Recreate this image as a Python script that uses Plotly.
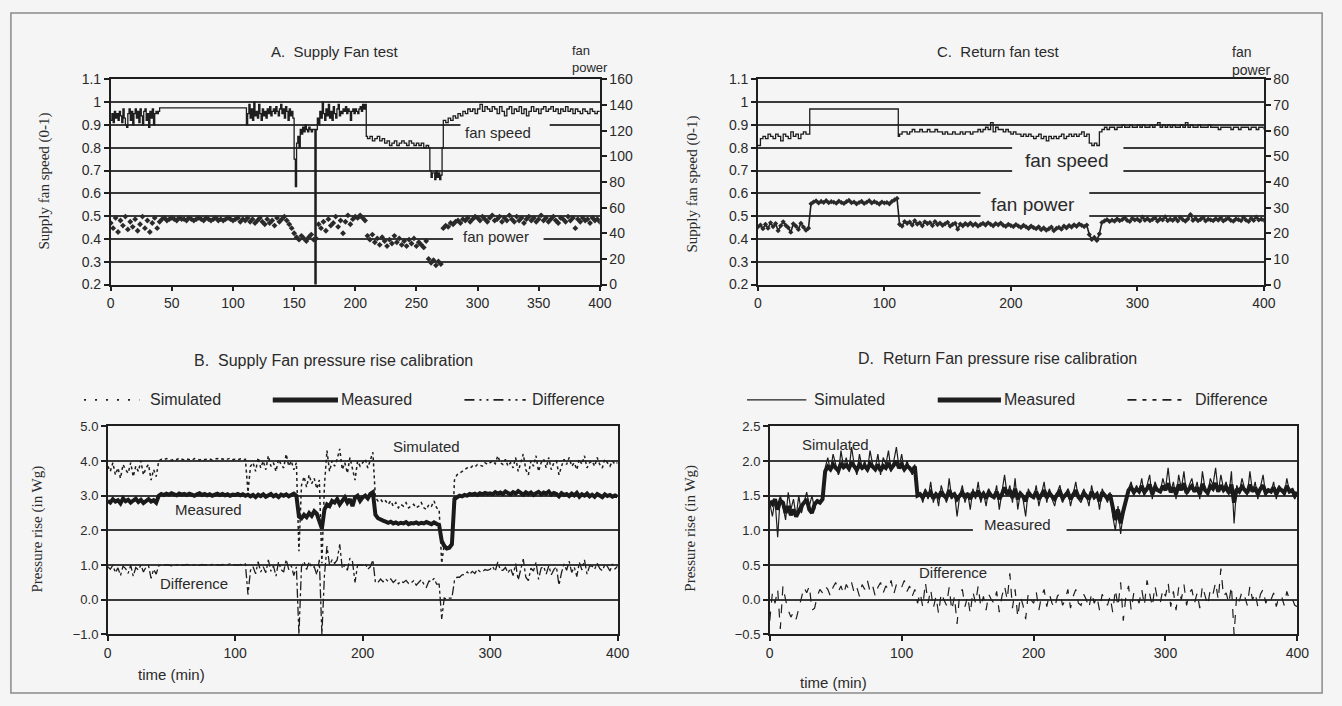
import plotly.graph_objects as go

W, H = 1342, 706


def px(x):
    return x / W


def py(y):
    return 1 - y / H


# ------------------------------------------------------------------ data
t2 = list(range(0, 401, 2))  # 2-minute sample times

# Panel A - supply fan speed (0-1) and fan power (right axis)
a_speed_t = (list(range(0, 41)) + [110] + list(range(111, 210)) +
             list(range(210, 261, 2)) + list(range(261, 272)) + list(range(272, 401, 2)))
a_speed = [
    0.92, 0.95, 0.91, 0.96, 0.93, 0.95, 0.92, 0.96, 0.94, 0.91,
    0.97, 0.93, 0.90, 0.89, 0.95, 0.97, 0.92, 0.96, 0.90, 0.95,
    0.97, 0.93, 0.96, 0.91, 0.97, 0.94, 0.90, 0.96, 0.97, 0.92,
    0.95, 0.89, 0.96, 0.93, 0.97, 0.90, 0.95, 0.96, 0.95, 0.96,
    0.975,
    0.975,
    0.90, 0.95, 0.99, 0.93, 0.97, 0.92, 1.00, 0.94, 0.96,
    0.93, 0.99, 0.95, 0.92, 0.97, 0.94, 0.96, 0.93, 0.97, 0.95,
    0.98, 0.94, 0.96, 0.97, 0.95, 0.98, 0.96, 0.94, 0.97, 0.99,
    0.95, 0.97, 0.93, 0.98, 0.96, 0.92, 0.97, 0.94, 0.96, 0.93,
    0.75, 0.63, 0.82, 0.85, 0.80, 0.88, 0.86, 0.89, 0.87, 0.90,
    0.88, 0.87, 0.89, 0.88, 0.87, 0.88, 0.88, 0.20, 0.88, 0.93,
    0.90, 0.96, 0.93, 1.00, 0.95, 0.92, 0.97, 0.94, 0.99, 0.93,
    0.96, 0.92, 0.98, 0.95, 0.93, 0.97, 0.99, 0.94, 0.96, 0.95,
    0.97, 0.96, 0.98, 0.95, 0.97, 0.96, 0.92, 0.96, 0.97, 0.95,
    0.97, 0.96, 0.95, 0.97, 0.98, 0.96, 0.99, 0.97, 0.99, 0.85,
    0.84, 0.85, 0.83, 0.84, 0.85, 0.83, 0.84, 0.82, 0.83, 0.81,
    0.82, 0.83, 0.81, 0.82, 0.83, 0.82, 0.81, 0.83, 0.82, 0.81,
    0.82, 0.81, 0.82, 0.80, 0.81, 0.80,
    0.70, 0.67, 0.69, 0.69, 0.66, 0.70, 0.67, 0.69, 0.66, 0.68, 0.80,
    0.92, 0.91, 0.93, 0.92, 0.94, 0.93, 0.95, 0.94, 0.96, 0.95,
    0.97, 0.96, 0.97, 0.95, 0.97, 0.99, 0.96, 0.98, 0.97, 0.96,
    0.98, 0.97, 0.95, 0.98, 0.96, 0.94, 0.97, 0.98, 0.95, 0.97,
    0.96, 0.98, 0.95, 0.97, 0.94, 0.96, 0.98, 0.96, 0.97, 0.95,
    0.97, 0.98, 0.96, 0.97, 0.98, 0.96, 0.97, 0.95, 0.97, 0.96,
    0.98, 0.96, 0.97, 0.95, 0.97, 0.96, 0.95, 0.97, 0.96, 0.95,
    0.97, 0.96, 0.95, 0.96, 0.96,
]
a_power = [
    48, 44, 52, 41, 50, 46, 53, 43, 49, 45, 51, 42, 47, 53, 44, 50, 41, 48, 52, 44,
    49, 51, 52, 50, 51, 52, 51, 50, 52, 51,
    51, 50, 52, 51, 50, 51, 52, 51, 50, 52,
    51, 50, 51, 52, 50, 51, 50, 51, 52, 51,
    50, 51, 52, 49, 51, 50, 52, 49, 51, 48,
    50, 52, 49, 47, 51, 48, 50, 46, 52, 49,
    51, 53, 50, 47, 44,
    40, 37, 35, 38, 36, 34, 37, 39, 35, 36,
    47, 44, 49, 42, 51, 46, 48, 53, 45, 50, 40, 49, 54, 47, 51,
    53, 52, 54, 52, 50,
    38, 35, 39, 33, 36, 31, 37, 34, 30, 35, 32, 38, 33, 36, 31, 34, 30, 35, 32, 36, 30, 33, 31, 29, 34,
    20, 17, 19, 15, 18, 16,
    44, 46, 45, 48, 47, 49, 50, 48, 51, 50, 52, 49, 51, 53,
    52, 50, 53, 51, 49, 52, 54, 50, 51, 53, 49, 52, 50, 54, 51, 49, 53, 50, 52, 48,
    51, 53, 50, 52, 49, 51, 54, 50, 52, 49, 51, 53, 50, 48, 52, 51, 49, 53, 50, 52,
    44, 51, 49, 52, 50, 51, 48, 52, 50, 51, 49,
]

# Panel C - return fan speed (0-1) and fan power (right axis)
c_speed_t = list(range(0, 41, 2)) + [41, 110, 111] + list(range(112, 401, 2))
c_speed = [
    0.81, 0.84, 0.85, 0.84, 0.86, 0.85, 0.84, 0.86, 0.85, 0.83,
    0.86, 0.85, 0.84, 0.87, 0.85, 0.86, 0.84, 0.86, 0.87, 0.86, 0.86,
    0.97, 0.97, 0.85,
    0.86, 0.87, 0.87, 0.86, 0.87, 0.88, 0.87, 0.87, 0.88, 0.87,
    0.87, 0.88, 0.87, 0.87, 0.88, 0.87, 0.87, 0.86, 0.87, 0.86,
    0.86, 0.87, 0.86, 0.86, 0.87, 0.86, 0.87, 0.87, 0.86, 0.87,
    0.87, 0.88, 0.87, 0.88, 0.89, 0.88, 0.91, 0.87, 0.89, 0.88,
    0.88, 0.87, 0.88, 0.87, 0.86, 0.87, 0.86, 0.86, 0.85, 0.86,
    0.85, 0.86, 0.85, 0.84, 0.85, 0.86, 0.84, 0.85, 0.83, 0.85,
    0.84, 0.85, 0.84, 0.85, 0.86, 0.84, 0.85, 0.86, 0.85, 0.86,
    0.85, 0.86, 0.87, 0.85, 0.86, 0.82, 0.81, 0.82, 0.81, 0.87,
    0.88, 0.89, 0.88, 0.89, 0.89, 0.88, 0.89, 0.89, 0.90, 0.89,
    0.89, 0.90, 0.89, 0.89, 0.90, 0.89, 0.90, 0.89, 0.89, 0.90,
    0.89, 0.90, 0.91, 0.89, 0.90, 0.89, 0.90, 0.89, 0.90, 0.89,
    0.89, 0.90, 0.89, 0.91, 0.89, 0.90, 0.89, 0.89, 0.90, 0.89,
    0.89, 0.89, 0.90, 0.89, 0.89, 0.89, 0.88, 0.89, 0.89, 0.89,
    0.89, 0.88, 0.89, 0.89, 0.88, 0.89, 0.89, 0.89, 0.88, 0.89,
    0.89, 0.88, 0.89, 0.89, 0.88,
]
c_power = [
    22.5, 23.2, 21.8, 23.5, 22.0, 24.1, 22.6, 23.8, 21.0, 22.9,
    24.5, 23.1, 22.2, 20.4, 23.7, 22.8, 21.5, 23.9, 22.4, 21.2,
    22.0, 31.5, 32.2, 32.6, 31.8, 32.4, 32.0, 32.7, 31.9, 32.3,
    32.1, 31.7, 32.5, 32.0, 31.6, 32.3, 32.8, 31.9, 32.2, 31.5,
    32.0, 32.4, 31.6, 32.1, 32.7, 31.8, 32.3, 31.9, 31.4, 32.2,
    31.8, 32.0, 31.5, 32.4, 33.0, 33.6, 23.5, 22.8, 24.6, 23.9,
    24.4, 23.2, 24.9, 23.6, 24.1, 22.9, 24.5, 23.8, 24.2, 23.0,
    24.6, 23.4, 24.0, 23.1, 23.7, 24.3, 22.8, 23.5, 23.9, 21.6,
    23.6, 22.9, 23.8, 23.2, 24.0, 23.1, 23.7, 22.8, 23.4, 23.9,
    23.2, 24.1, 23.5, 22.9, 23.8, 23.3, 24.0, 23.1, 22.7, 23.5,
    23.0, 22.6, 23.4, 22.8, 22.3, 23.1, 22.5, 21.9, 22.8, 22.2,
    21.8, 22.5, 21.4, 22.1, 21.2, 21.7, 22.4, 21.0, 21.9, 22.3,
    21.6, 22.8, 22.1, 23.0, 22.4, 23.3, 22.7, 23.6, 23.1, 22.6,
    23.2, 19.5, 17.6, 18.4, 17.2, 19.8, 24.2, 24.8, 25.3, 24.6,
    25.1, 24.7, 25.6, 24.9, 25.3, 26.1, 25.0, 24.6, 25.8, 25.2,
    25.5, 24.8, 26.3, 25.1, 25.7, 24.9, 25.4, 26.0, 24.7, 25.6,
    25.2, 26.4, 24.9, 25.5, 25.0, 25.9, 24.8, 26.2, 25.3, 24.7,
    25.6, 27.3, 25.0, 25.8, 24.9, 25.4, 26.1, 24.8, 25.5, 25.2,
    24.9, 25.7, 25.1, 26.0, 24.8, 25.4, 25.9, 25.0, 24.7, 25.6,
    25.3, 24.9, 26.2, 25.1, 24.6, 25.8, 25.0, 26.3, 25.2, 25.5,
    25.1,
]

# Panel B - supply fan pressure rise (in Wg), every 2 minutes
b_sim = [
    3.85, 3.70, 3.95, 3.60, 3.80, 3.50, 3.90, 3.75, 3.65, 3.95,
    3.55, 3.85, 3.70, 4.00, 3.60, 3.80, 3.90, 3.45, 3.75, 3.55,
    4.00, 4.05, 4.03, 4.07, 4.05, 4.02, 4.06, 4.04, 4.08, 4.05,
    4.03, 4.06, 4.04, 4.02, 4.07, 4.05, 4.03, 4.06, 4.04, 4.05,
    4.06, 4.03, 4.05, 4.07, 4.04, 4.06, 4.03, 4.05, 4.08, 4.04,
    4.05, 4.03, 4.06, 4.04, 4.05, 3.10, 3.85, 3.95, 3.70, 4.10,
    3.80, 4.00, 3.75, 4.15, 3.85, 3.95, 3.70, 4.05, 3.90, 3.80,
    4.20, 3.85, 4.00, 3.75, 3.95, 1.40, 3.30, 3.55, 3.25, 3.60,
    3.35, 3.50, 3.20, 3.45, 1.05, 3.30, 4.30, 3.70, 4.00, 3.85,
    4.05, 4.35, 3.75, 3.95, 3.65, 4.10, 3.80, 3.45, 4.00, 3.85,
    3.95, 4.05, 3.80, 4.00, 4.25, 2.95, 2.85, 2.90, 2.80, 2.85,
    2.75, 2.85, 2.70, 2.80, 2.65, 2.75, 2.70, 2.80, 2.65, 2.70,
    2.75, 2.65, 2.70, 2.80, 2.65, 2.60, 2.75, 2.70, 2.85, 2.65,
    2.60, 1.05, 1.60, 1.50, 1.55, 1.65, 3.45, 3.60, 3.65, 3.70,
    3.75, 3.80, 3.78, 3.85, 3.82, 3.90, 3.88, 3.85, 3.95, 3.90,
    3.95, 4.00, 3.92, 4.15, 3.95, 3.90, 4.05, 3.85, 3.95, 3.80,
    4.10, 3.70, 3.95, 4.20, 3.75, 3.60, 4.00, 3.85, 4.15, 3.70,
    3.95, 4.05, 3.80, 4.10, 3.75, 3.95, 4.00, 3.60, 3.85, 4.05,
    3.90, 4.10, 3.85, 3.95, 3.75, 4.05, 3.90, 4.15, 3.80, 3.95,
    4.00, 3.85, 4.10, 3.90, 3.80, 4.05, 3.95, 3.85, 4.00, 3.90,
    3.95,
]
b_meas = [
    2.85, 2.80, 2.90, 2.83, 2.87, 2.78, 2.92, 2.84, 2.88, 2.80,
    2.86, 2.91, 2.82, 2.88, 2.79, 2.85, 2.90, 2.83, 2.87, 2.80,
    3.00, 3.05, 3.02, 3.06, 3.03, 3.07, 3.04, 3.01, 3.06, 3.03,
    3.05, 3.02, 3.06, 3.03, 3.00, 3.04, 3.07, 3.02, 3.05, 3.01,
    3.04, 3.00, 3.03, 3.06, 3.02, 3.05, 3.01, 3.04, 3.00, 3.03,
    3.02, 3.05, 3.01, 3.04, 3.00, 3.03, 2.98, 3.02, 2.96, 3.03,
    2.99, 3.04, 2.97, 3.01, 3.05, 2.98, 3.02, 2.96, 3.03, 3.00,
    3.04, 2.98, 3.02, 3.06, 3.00, 2.40, 2.35, 2.45, 2.38, 2.50,
    2.42, 2.55, 2.48, 2.30, 2.05, 2.60, 2.75, 2.70, 2.85, 2.80,
    2.90, 2.75, 2.85, 2.95, 2.80, 2.90, 2.70, 2.95, 3.00, 2.85,
    2.95, 3.00, 2.92, 3.05, 3.10, 2.45, 2.35, 2.30, 2.28, 2.25,
    2.22, 2.25, 2.20, 2.23, 2.19, 2.22, 2.20, 2.24, 2.18, 2.21,
    2.20, 2.23, 2.19, 2.22, 2.20, 2.24, 2.21, 2.18, 2.23, 2.20,
    2.15, 1.70, 1.55, 1.48, 1.50, 1.60, 2.90, 2.95, 3.00, 2.98,
    3.02, 3.00, 3.05, 3.03, 3.06, 3.02, 3.07, 3.04, 3.08, 3.05,
    3.07, 3.04, 3.10, 3.06, 3.09, 3.05, 3.12, 3.08, 3.04, 3.10,
    3.06, 3.13, 3.08, 3.03, 3.10, 3.05, 3.09, 3.02, 3.07, 3.11,
    3.04, 3.09, 3.06, 3.12, 3.03, 3.08, 3.05, 2.98, 3.07, 3.02,
    3.05, 2.99, 3.06, 3.01, 3.08, 2.97, 3.04, 3.00, 3.06, 2.98,
    3.03, 2.97, 3.05, 3.00, 2.96, 3.04, 2.99, 3.02, 2.97, 3.01,
    2.98,
]
b_diff = [
    0.95, 0.88, 1.00, 0.78, 0.92, 0.70, 0.97, 0.90, 0.76, 1.00,
    0.68, 0.93, 0.86, 1.00, 0.80, 0.94, 0.98, 0.62, 0.88, 0.74,
    0.98, 1.00, 0.99, 1.01, 1.00, 0.98, 1.01, 1.00, 1.02, 1.00,
    0.99, 1.02, 1.00, 0.98, 1.01, 1.00, 0.99, 1.02, 1.00, 1.01,
    1.00, 1.02, 1.00, 1.01, 0.99, 1.02, 1.00, 1.01, 1.03, 1.00,
    1.01, 0.99, 1.02, 1.00, 1.03, 0.15, 0.85, 0.95, 0.75, 1.10,
    0.80, 0.95, 0.78, 1.15, 0.82, 0.98, 0.68, 1.10, 0.87, 0.80,
    1.16, 0.87, 0.98, 0.70, 0.95, -1.00, 0.95, 1.10, 0.87, 1.10,
    0.93, 0.95, 0.72, 1.15, -1.00, 0.70, 1.55, 1.00, 1.15, 1.05,
    1.15, 1.60, 0.90, 1.00, 0.85, 1.20, 1.10, 0.50, 1.00, 1.00,
    1.00, 1.05, 0.88, 0.95, 1.15, 0.50, 0.50, 0.60, 0.52, 0.60,
    0.53, 0.60, 0.50, 0.57, 0.46, 0.53, 0.50, 0.56, 0.47, 0.49,
    0.55, 0.42, 0.51, 0.58, 0.45, 0.36, 0.54, 0.52, 0.62, 0.45,
    0.45, -0.55, 0.05, 0.02, 0.05, 0.05, 0.55, 0.65, 0.65, 0.72,
    0.73, 0.80, 0.73, 0.82, 0.76, 0.88, 0.81, 0.81, 0.87, 0.85,
    0.88, 0.96, 0.82, 1.09, 0.86, 0.85, 0.93, 0.77, 0.91, 0.70,
    1.04, 0.57, 0.87, 1.17, 0.65, 0.55, 0.91, 0.83, 1.08, 0.59,
    0.91, 0.96, 0.74, 0.98, 0.72, 0.87, 0.95, 0.42, 0.78, 1.03,
    0.85, 1.11, 0.79, 0.94, 0.67, 1.08, 0.86, 1.15, 0.74, 0.97,
    0.97, 0.88, 1.05, 0.90, 0.84, 1.01, 0.96, 0.83, 1.03, 0.89,
    0.97,
]

# Panel D - return fan pressure rise (in Wg), every 2 minutes
d_sim = [
    1.40, 1.20, 1.45, 0.90, 1.50, 1.35, 1.15, 1.55, 1.30, 1.45,
    1.20, 1.50, 1.25, 1.40, 1.55, 1.35, 1.50, 1.30, 1.45, 1.40,
    1.45, 1.90, 2.05, 1.85, 2.10, 1.95, 1.80, 2.15, 1.90, 2.05,
    1.85, 2.20, 1.95, 1.80, 2.10, 1.90, 2.00, 1.85, 2.15, 1.95,
    1.90, 2.10, 1.80, 2.05, 1.95, 2.15, 1.85, 2.00, 2.20, 1.90,
    2.10, 1.85, 2.00, 1.90, 1.80, 1.95, 1.50, 1.55, 1.40, 1.60,
    1.45, 1.70, 1.40, 1.55, 1.35, 1.65, 1.50, 1.40, 1.75, 1.45,
    1.55, 1.20, 1.50, 1.65, 1.40, 1.55, 1.30, 1.60, 1.45, 1.70,
    1.40, 1.55, 1.35, 1.60, 1.50, 1.45, 1.65, 1.30, 1.55, 1.80,
    1.50, 1.65, 1.40, 1.75, 1.30, 1.55, 1.45, 1.20, 1.60, 1.50,
    1.45, 1.65, 1.35, 1.55, 1.70, 1.40, 1.60, 1.45, 1.35, 1.55,
    1.65, 1.40, 1.50, 1.60, 1.35, 1.55, 1.70, 1.45, 1.40, 1.60,
    1.50, 1.35, 1.65, 1.45, 1.55, 1.30, 1.60, 1.50, 1.40, 1.55,
    1.20, 1.00, 1.35, 0.95, 1.25, 1.45, 1.60, 1.70, 1.50, 1.65,
    1.55, 1.75, 1.50, 1.65, 1.80, 1.45, 1.70, 1.60, 1.55, 1.75,
    1.60, 1.90, 1.55, 1.70, 1.45, 1.80, 1.60, 1.85, 1.50, 1.65,
    1.75, 1.55, 1.70, 1.45, 1.85, 1.60, 1.50, 1.75, 1.65, 1.90,
    1.55, 1.80, 1.60, 1.70, 1.50, 1.85, 1.10, 1.65, 1.55, 1.75,
    1.60, 1.50, 1.85, 1.55, 1.70, 1.45, 1.65, 1.80, 1.50, 1.60,
    1.55, 1.70, 1.45, 1.65, 1.60, 1.50, 1.75, 1.55, 1.60, 1.45,
    1.55,
]
d_meas = [
    1.42, 1.38, 1.45, 1.30, 1.43, 1.40, 1.25, 1.35, 1.22, 1.30,
    1.20, 1.28, 1.35, 1.40, 1.45, 1.30, 1.25, 1.38, 1.42, 1.40,
    1.45, 1.85, 1.92, 1.88, 1.95, 1.90, 1.86, 1.97, 1.91, 1.94,
    1.89, 1.98, 1.92, 1.87, 1.95, 1.90, 1.93, 1.88, 1.96, 1.91,
    1.88, 1.95, 1.86, 1.93, 1.90, 1.97, 1.89, 1.94, 2.00, 1.90,
    1.95, 1.88, 1.93, 1.90, 1.85, 1.92, 1.50, 1.52, 1.47, 1.55,
    1.50, 1.55, 1.46, 1.52, 1.48, 1.56, 1.50, 1.47, 1.58, 1.49,
    1.52, 1.45, 1.50, 1.55, 1.47, 1.53, 1.45, 1.55, 1.49, 1.57,
    1.48, 1.53, 1.46, 1.55, 1.50, 1.48, 1.56, 1.45, 1.52, 1.62,
    1.52, 1.58, 1.47, 1.60, 1.45, 1.53, 1.49, 1.42, 1.55, 1.50,
    1.48, 1.56, 1.45, 1.52, 1.58, 1.47, 1.54, 1.49, 1.45, 1.52,
    1.56, 1.46, 1.50, 1.55, 1.45, 1.52, 1.58, 1.48, 1.46, 1.54,
    1.50, 1.45, 1.56, 1.48, 1.52, 1.42, 1.55, 1.50, 1.46, 1.52,
    1.35, 1.15, 1.30, 1.10, 1.28, 1.45, 1.58, 1.62, 1.55, 1.60,
    1.56, 1.64, 1.55, 1.60, 1.66, 1.52, 1.62, 1.58, 1.56, 1.64,
    1.58, 1.68, 1.55, 1.62, 1.52, 1.66, 1.58, 1.68, 1.54, 1.60,
    1.64, 1.56, 1.62, 1.52, 1.67, 1.58, 1.54, 1.64, 1.60, 1.68,
    1.56, 1.65, 1.58, 1.62, 1.54, 1.66, 1.40, 1.60, 1.56, 1.63,
    1.58, 1.54, 1.66, 1.56, 1.62, 1.52, 1.60, 1.65, 1.54, 1.58,
    1.56, 1.62, 1.52, 1.60, 1.58, 1.54, 1.64, 1.56, 1.58, 1.50,
    1.55,
]
d_diff = [
    -0.30, 0.10, -0.05, 0.15, -0.42, 0.20, 0.00, -0.15, -0.25, -0.18,
    -0.28, -0.12, 0.05, 0.18, 0.10, 0.20, -0.15, -0.12, 0.05, 0.15,
    0.10, 0.20, 0.15, 0.05, 0.18, 0.25, 0.12, 0.20, 0.08, 0.22,
    0.15, 0.25, 0.10, 0.18, 0.05, 0.22, 0.15, 0.28, 0.12, 0.20,
    0.05, 0.18, 0.25, 0.10, 0.20, 0.15, 0.28, 0.08, 0.22, 0.25,
    0.18, 0.28, 0.12, 0.20, 0.05, 0.15, -0.05, 0.10, -0.10, 0.25,
    -0.05, 0.15, -0.12, 0.05, -0.20, 0.10, 0.00, -0.08, 0.18, -0.15,
    0.05, -0.35, 0.10, 0.15, -0.10, 0.05, -0.20, 0.12, -0.05, 0.20,
    -0.10, 0.05, -0.15, 0.08, 0.00, -0.05, 0.12, -0.18, 0.05, 0.20,
    0.00, 0.38, -0.12, 0.15, -0.25, 0.05, -0.08, -0.28, 0.10, 0.00,
    -0.05, 0.12, -0.15, 0.05, 0.15, -0.10, 0.08, -0.05, -0.12, 0.05,
    0.10, -0.08, 0.00, 0.15, -0.12, 0.05, 0.15, -0.05, -0.08, 0.08,
    0.00, -0.12, 0.10, -0.05, 0.05, -0.15, 0.08, 0.00, -0.08, 0.05,
    -0.18, 0.15, -0.10, 0.25, -0.30, 0.05, 0.20, -0.15, 0.10, 0.05,
    -0.05, 0.15, -0.08, 0.28, 0.10, -0.10, 0.20, 0.00, -0.05, 0.15,
    0.05, 0.25, -0.10, 0.12, -0.15, 0.18, 0.00, 0.22, -0.08, 0.10,
    0.15, -0.05, 0.10, -0.12, 0.20, 0.05, -0.08, 0.15, 0.08, 0.25,
    0.00, 0.45, 0.05, 0.10, -0.05, 0.20, -0.50, 0.08, -0.02, 0.12,
    0.05, -0.08, 0.20, 0.00, 0.10, -0.10, 0.08, 0.15, -0.05, 0.05,
    0.00, 0.10, -0.10, 0.05, 0.05, -0.08, 0.12, 0.00, 0.02, -0.08,
    -0.10,
]

speed_ticks = [0.2, 0.3, 0.4, 0.5, 0.6, 0.7, 0.8, 0.9, 1.0, 1.1]
speed_ticktext = ["0.2", "0.3", "0.4", "0.5", "0.6", "0.7", "0.8", "0.9", "1", "1.1"]

# ------------------------------------------------------------------ style
INK = "#1e1e1e"
TXT = "#2a2a2a"
GRID = "#3a3a3a"
BG = "#f5f5f5"
SANS = "Liberation Sans, Arial, sans-serif"
SERIF = "Liberation Serif, Times New Roman, serif"

fig = go.Figure()

# Panel A
fig.add_trace(go.Scatter(x=a_speed_t, y=a_speed, mode="lines", line=dict(color=INK, width=1.3, shape="hv"),
                         xaxis="x", yaxis="y", showlegend=False))
fig.add_trace(go.Scatter(x=t2, y=a_power, mode="markers",
                         marker=dict(symbol="diamond", size=4.5, color="#2a2a2a"),
                         xaxis="x", yaxis="y2", showlegend=False))
# Panel C
fig.add_trace(go.Scatter(x=c_speed_t, y=c_speed, mode="lines", line=dict(color=INK, width=1.3, shape="hv"),
                         xaxis="x2", yaxis="y3", showlegend=False))
fig.add_trace(go.Scatter(x=t2, y=c_power, mode="lines+markers", line=dict(color=INK, width=1.6),
                         marker=dict(symbol="diamond", size=4, color="#2a2a2a"),
                         xaxis="x2", yaxis="y4", showlegend=False))
# Panel B
fig.add_trace(go.Scatter(x=t2, y=b_meas, mode="lines", line=dict(color="#1a1a1a", width=4),
                         xaxis="x3", yaxis="y5", showlegend=False))
fig.add_trace(go.Scatter(x=t2, y=b_sim, mode="lines", line=dict(color=INK, width=1.5, dash="dot"),
                         xaxis="x3", yaxis="y5", showlegend=False))
fig.add_trace(go.Scatter(x=t2, y=b_diff, mode="lines", line=dict(color=INK, width=1.3, dash="dashdot"),
                         xaxis="x3", yaxis="y5", showlegend=False))
# Panel D
fig.add_trace(go.Scatter(x=t2, y=d_meas, mode="lines", line=dict(color="#1a1a1a", width=4),
                         xaxis="x4", yaxis="y6", showlegend=False))
fig.add_trace(go.Scatter(x=t2, y=d_sim, mode="lines", line=dict(color=INK, width=1.2),
                         xaxis="x4", yaxis="y6", showlegend=False))
fig.add_trace(go.Scatter(x=t2, y=d_diff, mode="lines", line=dict(color=INK, width=1.2, dash="dash"),
                         xaxis="x4", yaxis="y6", showlegend=False))


def xax(domain, dtick, anchor):
    return dict(domain=domain, range=[0, 400], dtick=dtick, tick0=0, anchor=anchor,
                showgrid=False, zeroline=False, showline=True, linecolor=INK, linewidth=1.5,
                mirror=True, ticks="outside", ticklen=5, tickcolor=INK, tickwidth=1.5,
                tickfont=dict(family=SANS, size=14, color=TXT))


def yax(domain, anchor, **kw):
    d = dict(domain=domain, anchor=anchor, showgrid=True, gridcolor=GRID, gridwidth=1.6,
             zeroline=False, showline=True, linecolor=INK, linewidth=1.5,
             ticks="outside", ticklen=5, tickcolor=INK, tickwidth=1.5,
             tickfont=dict(family=SANS, size=14, color=TXT))
    d.update(kw)
    return d


A_X = [px(108), px(603)]
C_X = [px(763), px(1275)]
TOP_Y = [py(283), py(73)]
B_X = [px(105), px(621)]
D_X = [px(775), px(1309)]
BOT_Y = [py(641), py(428)]

fig.update_layout(
    width=W, height=H, autosize=False,
    margin=dict(l=0, r=0, t=0, b=0),
    paper_bgcolor=BG, plot_bgcolor="rgba(0,0,0,0)",
    font=dict(family=SANS, color=TXT),
    showlegend=False,
    xaxis=xax(A_X, 50, "y"),
    yaxis=yax(TOP_Y, "x", range=[0.2, 1.1], tickvals=speed_ticks, ticktext=speed_ticktext),
    yaxis2=dict(overlaying="y", anchor="x", side="right", range=[0, 160], dtick=20, tick0=0,
                showgrid=False, zeroline=False, showline=True, linecolor=INK, linewidth=1.5,
                ticks="outside", ticklen=5, tickcolor=INK, tickwidth=1.5,
                tickfont=dict(family=SANS, size=14, color=TXT)),
    xaxis2=xax(C_X, 100, "y3"),
    yaxis3=yax(TOP_Y, "x2", range=[0.2, 1.1], tickvals=speed_ticks, ticktext=speed_ticktext),
    yaxis4=dict(overlaying="y3", anchor="x2", side="right", range=[0, 80], dtick=10, tick0=0,
                showgrid=False, zeroline=False, showline=True, linecolor=INK, linewidth=1.5,
                ticks="outside", ticklen=5, tickcolor=INK, tickwidth=1.5,
                tickfont=dict(family=SANS, size=14, color=TXT)),
    xaxis3=xax(B_X, 100, "y5"),
    yaxis5=yax(BOT_Y, "x3", range=[-1, 5], dtick=1, tick0=0, tickformat=".1f", mirror=True,
               tickfont=dict(family=SANS, size=13, color=TXT)),
    xaxis4=xax(D_X, 100, "y6"),
    yaxis6=yax(BOT_Y, "x4", range=[-0.5, 2.5], dtick=0.5, tick0=0, tickformat=".1f", mirror=True,
               tickfont=dict(family=SANS, size=13, color=TXT)),
)

# gaps in gridlines behind text boxes
gaps = [
    ("x", "y", 286, 359, 0.885, 0.915),
    ("x", "y", 280, 354, 0.385, 0.415),
    ("x2", "y3", 201, 289, 0.68, 0.82),
    ("x2", "y3", 176, 262, 0.49, 0.61),
    ("x4", "y6", 154, 225, 0.97, 1.03),
]
for xr, yr, x0, x1, y0, y1 in gaps:
    fig.add_shape(type="rect", xref=xr, yref=yr, x0=x0, x1=x1, y0=y0, y1=y1,
                  fillcolor=BG, line=dict(width=0), layer="between")

# outer frame
fig.add_shape(type="rect", xref="paper", yref="paper", x0=px(7), x1=px(1334), y0=py(701), y1=py(5),
              line=dict(color="#8a8a8a", width=1.5), layer="below")

# legend samples
legend_samples = [
    (81, 137, 401, 1.6, "2px,9px"),
    (272, 338, 401, 5, "solid"),
    (466, 528, 401, 1.6, "10px,5px,2px,5px,2px,5px"),
    (752, 812, 401, 1.4, "solid"),
    (945, 1009, 401, 5, "solid"),
    (1137, 1195, 401, 1.6, "9px,6px,4px,6px,4px,6px"),
]
for x0, x1, y, w, dash in legend_samples:
    fig.add_shape(type="line", xref="paper", yref="paper", x0=px(x0), x1=px(x1), y0=py(y), y1=py(y),
                  line=dict(color=INK, width=w, dash=dash))


def ann(text, x, y, size, xanchor="center", font=SANS, angle=0, align="center"):
    fig.add_annotation(text=text, x=px(x), y=py(y), xref="paper", yref="paper", showarrow=False,
                       xanchor=xanchor, yanchor="middle", textangle=angle, align=align,
                       font=dict(family=font, size=size, color=TXT))


ann("A.  Supply Fan test", 335, 44, 15)
ann("C.  Return fan test", 1007, 45, 15)
ann("fan<br>power", 573, 52, 13, xanchor="left", align="left")
ann("fan<br>power", 1241, 54, 14, xanchor="left", align="left")
ann("fan speed", 500, 127, 15)
ann("fan power", 498, 234, 15)
ann("fan speed", 1075, 156, 19)
ann("fan power", 1041, 201, 19)
ann("Supply fan speed (0-1)", 41, 177, 15, font=SERIF, angle=-90)
ann("Supply fan speed (0-1)", 697, 180, 15, font=SERIF, angle=-90)

ann("B.  Supply Fan pressure rise calibration", 333, 361, 16)
ann("D.  Return Fan pressure rise calibration", 1005, 359, 16)
ann("Simulated", 146, 401, 16, xanchor="left")
ann("Measured", 339, 401, 16, xanchor="left")
ann("Difference", 532, 401, 16, xanchor="left")
ann("Simulated", 818, 401, 16, xanchor="left")
ann("Measured", 1010, 401, 16, xanchor="left")
ann("Difference", 1203, 401, 16, xanchor="left")
ann("Simulated", 428, 449, 15)
ann("Measured", 207, 513, 15)
ann("Difference", 192, 589, 15)
ann("Simulated", 842, 447, 15)
ann("Measured", 1026, 528, 15)
ann("Difference", 960, 578, 15)
ann("time (min)", 170, 682, 15)
ann("time (min)", 840, 690, 15)
ann("Pressure rise (in Wg)", 34, 533, 15, font=SERIF, angle=-90)
ann("Pressure rise (in Wg)", 695, 532, 15, font=SERIF, angle=-90)

fig.write_html("out.html", config={"displayModeBar": False},
               post_script="document.body.style.margin='0px';")
